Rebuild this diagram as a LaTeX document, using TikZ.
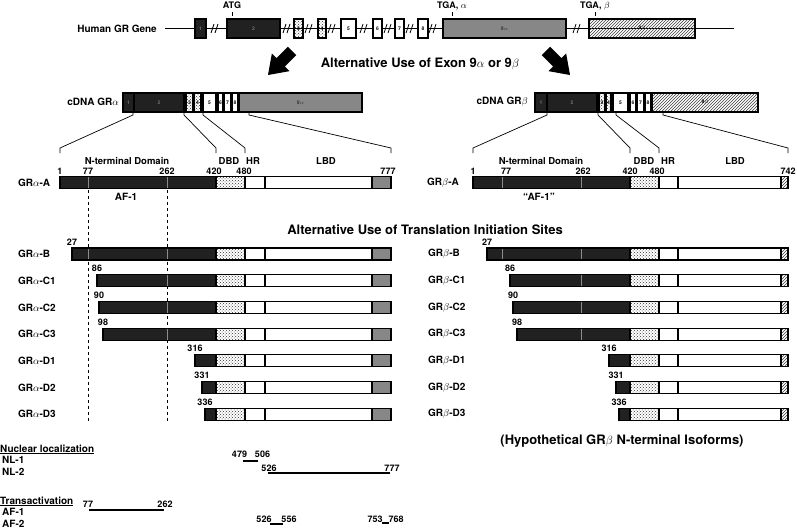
\documentclass[tikz,border=0pt]{standalone}
\usepackage{fontspec}
\setmainfont{TeX Gyre Heros}
\usetikzlibrary{patterns}

\definecolor{darkseg}{gray}{0.13}
\definecolor{grayseg}{gray}{0.53}

\tikzset{
  lab/.style={font=\bfseries\fontsize{10}{12}\selectfont, inner sep=0pt},
  headline/.style={font=\bfseries\fontsize{13}{15}\selectfont, inner sep=0pt},
  domlab/.style={font=\bfseries\fontsize{9.5}{11}\selectfont, inner sep=0pt},
  numlab/.style={font=\bfseries\fontsize{9}{10}\selectfont, inner sep=0pt, anchor=base},
  exonlab/.style={font=\bfseries\fontsize{5}{6}\selectfont, inner sep=0pt},
  barbox/.style={draw=black, line width=1.1pt},
  darkbox/.style={barbox, fill=darkseg},
  dotbox/.style={barbox, pattern=crosshatch dots, pattern color=black!80},
  whitebox/.style={barbox, fill=white},
  alphabox/.style={barbox, fill=grayseg},
  betabox/.style={barbox, pattern=north east lines, pattern color=black!75},
  divline/.style={black!45, line width=0.6pt},
  linkline/.style={line width=0.7pt},
  rangeline/.style={line width=1.4pt}
}

% one protein bar: #1 = y of the bar centre, #2 = x of the first residue
\newcommand{\gralpha}[2]{%
  \path[darkbox]  (#2,#1-6) rectangle (216,#1+6);
  \path[dotbox]   (216,#1-6) rectangle (245,#1+6);
  \path[whitebox] (245,#1-6) rectangle (265,#1+6);
  \path[whitebox] (265,#1-6) rectangle (372,#1+6);
  \path[alphabox] (372,#1-6) rectangle (391,#1+6);
}
\newcommand{\grbeta}[2]{%
  \path[darkbox]  (#2,#1-6) rectangle (630,#1+6);
  \path[dotbox]   (630,#1-6) rectangle (659,#1+6);
  \path[whitebox] (659,#1-6) rectangle (678,#1+6);
  \path[whitebox] (678,#1-6) rectangle (781,#1+6);
  \path[betabox]  (781,#1-6) rectangle (788,#1+6);
}
% fat block arrow, drawn along the x axis of its scope
\newcommand{\fatarrow}{%
  \fill (-17,-6) -- (-1,-6) -- (-1,-12.5) -- (17,0) -- (-1,12.5) -- (-1,6) -- (-17,6) -- cycle;
}

\begin{document}
\begin{tikzpicture}[x=1pt, y=-1pt]
  \useasboundingbox (0,0) rectangle (797,530);

  % 1. The gene (top row)
  \node[lab, anchor=east] (gene) at (157,28.5) {Human GR Gene};
  \coordinate (gstart) at (165,28.5);
  \coordinate (gend)   at (734,28.5);
  \draw[line width=1.3pt] (gstart) -- (gend);

  % exons
  \foreach \a/\b/\esty/\elab/\ecol in {195/206/darkbox/1/black!55, 227/280/darkbox/2/black!55,
      294/303/dotbox/3/black, 318/326/dotbox/4/black, 341/356/whitebox/5/black,
      373/382/whitebox/6/black, 395/404/whitebox/7/black, 418/428/whitebox/8/black,
      443/566/alphabox/9$\alpha$/black!80, 589/695/betabox/9$\beta$/black}
  {
    \path[\esty, line width=1.3pt] (\a,19) rectangle (\b,38);
    \node[exonlab, text=\ecol] at ({(\a+\b)/2},28.5) {\elab};
  }

  % introns cut short
  \foreach \x in {215,287,309,332,364,388,410,433,577}
    \draw[line width=0.8pt] (\x-4,33) -- (\x-1,24) (\x,33) -- (\x+3,24);

  % start and stop codons
  \node[numlab] (atg)  at (232,8.5) {ATG};
  \node[numlab] (tgaa) at (452,8.5) {TGA, $\alpha$};
  \node[numlab] (tgab) at (595,8.5) {TGA, $\beta$};
  \foreach \x in {232,452,595}
    \draw[line width=0.6pt] (\x,12) -- (\x,16);

  % 2. Splicing arrows and title
  \begin{scope}[shift={(280,63)}, rotate=-135]
    \fatarrow
  \end{scope}
  \begin{scope}[shift={(558,63)}, rotate=-45]
    \fatarrow
  \end{scope}
  \node[headline] (splice) at (420,64) {Alternative Use of Exon 9$\alpha$ or 9$\beta$};

  % 3. The two cDNAs
  \node[lab, anchor=east] (cdnaA) at (119,102) {cDNA GR$\alpha$};
  \path[whitebox] (123,93) rectangle (362,112);
  \foreach \a/\b/\esty/\elab/\ecol in {123/134/darkbox/1/black!55, 134/184/darkbox/2/black!55,
      186/193/dotbox/3/black, 194/201/dotbox/4/black, 203/216/whitebox/5/black,
      218/223/whitebox/6/black, 224/231/whitebox/7/black, 232/238/whitebox/8/black,
      239/362/alphabox/9$\alpha$/black!80}
  {
    \path[\esty] (\a,93) rectangle (\b,112);
    \node[exonlab, text=\ecol] at ({(\a+\b)/2},102.5) {\elab};
  }

  \node[lab, anchor=east] (cdnaB) at (528,102) {cDNA GR$\beta$};
  \path[whitebox] (535,93) rectangle (758,112);
  \foreach \a/\b/\esty/\elab/\ecol in {535/547/darkbox/1/black!55, 547/597/darkbox/2/black!55,
      599/605/dotbox/3/black, 606/611/dotbox/4/black, 613/628/whitebox/5/black,
      630/636/whitebox/6/black, 637/644/whitebox/7/black, 645/651/whitebox/8/black,
      652/758/betabox/9$\beta$/black}
  {
    \path[\esty] (\a,93) rectangle (\b,112);
    \node[exonlab, text=\ecol] at ({(\a+\b)/2},102.5) {\elab};
  }

  % exon borders down to the protein domains
  \foreach \i/\c/\p in {1/133/60, 2/184/216, 3/203/245, 4/249/391}
  {
    \coordinate (ca\i) at (\c,112);
    \coordinate (pa\i) at (\p,148);
    \draw[linkline] (ca\i) -- ++(0,3) -- (pa\i) -- ++(0,5);
  }
  \foreach \i/\c/\p in {1/547/473, 2/598/630, 3/616/659, 4/663/788}
  {
    \coordinate (cb\i) at (\c,112);
    \coordinate (pb\i) at (\p,148);
    \draw[linkline] (cb\i) -- ++(0,3) -- (pb\i) -- ++(0,5);
  }

  % 4. Full length receptors (A)
  \node[domlab] (ntdA) at (127,161) {N-terminal Domain};
  \node[domlab] (dbdA) at (229,161) {DBD};
  \node[domlab] (hrA)  at (253,161) {HR};
  \node[domlab] (lbdA) at (326,161) {LBD};
  \foreach \x/\lb in {60/1, 88/77, 167/262, 214/420, 244/480, 388/777}
    \node[numlab] at (\x,174) {\lb};

  \node[domlab] (ntdB) at (541,161) {N-terminal Domain};
  \node[domlab] (dbdB) at (644,161) {DBD};
  \node[domlab] (hrB)  at (668,161) {HR};
  \node[domlab] (lbdB) at (735,161) {LBD};
  \foreach \x/\lb in {473/1, 506/77, 583/262, 630/420, 657/480, 788/742}
    \node[numlab] at (\x,174) {\lb};

  % AF-1 boundaries, dashed down through the alpha isoforms
  \draw[dashed, line width=0.6pt] (88,190) -- (88,421);
  \draw[dashed, line width=0.6pt] (167,190) -- (167,421);

  \node[lab, anchor=west] (graA) at (18,182.5) {GR$\alpha$-A};
  \gralpha{182.5}{60}
  \node[lab] (afA) at (126,197) {AF-1};

  \node[lab, anchor=west] (grbA) at (427,182.5) {GR$\beta$-A};
  \grbeta{182.5}{473}
  \node[lab] (afB) at (539,197) {“AF-1”};

  % 5. Translation initiation isoforms
  \node[headline] (tis) at (425,230) {Alternative Use of Translation Initiation Sites};

  \foreach \nm/\y/\sa/\sb/\lb in {B/254/72/487/27, C1/280.7/97/510/86, C2/307.4/99/513/90,
      C3/334.1/103/517/98, D1/360.8/195/609/316, D2/387.5/202/616/331, D3/414.2/205/619/336}
  {
    \node[lab, anchor=west] (gra\nm) at (18,\y) {GR$\alpha$-\nm};
    \gralpha{\y}{\sa}
    \node[numlab] (na\nm) at (\sa,\y-9) {\lb};

    \node[lab, anchor=west] (grb\nm) at (428,\y) {GR$\beta$-\nm};
    \grbeta{\y}{\sb}
    \node[numlab] (nb\nm) at (\sb,\y-9) {\lb};
  }

  % inner borders of the N-terminal domain (77, 262)
  \foreach \y in {182.5,254}
    \draw[divline] (88,\y-5.4) -- (88,\y+5.4) (167,\y-5.4) -- (167,\y+5.4)
                   (502,\y-5.4) -- (502,\y+5.4) (581,\y-5.4) -- (581,\y+5.4);
  \foreach \y in {280.7,307.4,334.1}
    \draw[divline] (167,\y-5.4) -- (167,\y+5.4) (581,\y-5.4) -- (581,\y+5.4);

  \node[headline] (hypo) at (622,441) {(Hypothetical GR$\beta$ N-terminal Isoforms)};

  % 6. Functional regions
  \node[lab, anchor=base west] (nucl)  at (0,452) {\underline{Nuclear localization}};
  \node[lab, anchor=base west] (nl1)   at (2,463) {NL-1};
  \node[lab, anchor=base west] (nl2)   at (2,475) {NL-2};
  \node[lab, anchor=base west] (trans) at (0,504) {\underline{Transactivation}};
  \node[lab, anchor=base west] (af1)   at (2,515) {AF-1};
  \node[lab, anchor=base west] (af2)   at (2,527) {AF-2};

  \node[numlab] (n479) at (239.5,457) {479};
  \node[numlab] (n506) at (262.5,457) {506};
  \node[numlab] (n526) at (269,471) {526};
  \node[numlab] (n777) at (392,471) {777};
  \node[numlab] (n77)  at (88,507) {77};
  \node[numlab] (n262) at (165,507) {262};
  \node[numlab] (t526) at (264,522) {526};
  \node[numlab] (t556) at (289,522) {556};
  \node[numlab] (t753) at (375,522) {753};
  \node[numlab] (t768) at (396,522) {768};

  \coordinate (nl1s) at (243,461);   \coordinate (nl1e) at (258,461);
  \coordinate (nl2s) at (268,473);   \coordinate (nl2e) at (390,473);
  \coordinate (af1s) at (89,510);    \coordinate (af1e) at (164,510);
  \coordinate (af2s) at (270,524);   \coordinate (af2e) at (283,524);
  \coordinate (af3s) at (382,523);   \coordinate (af3e) at (389,523);
  \foreach \r in {nl1, nl2, af1, af2, af3}
    \draw[rangeline] (\r s) -- (\r e);

\end{tikzpicture}
\end{document}
